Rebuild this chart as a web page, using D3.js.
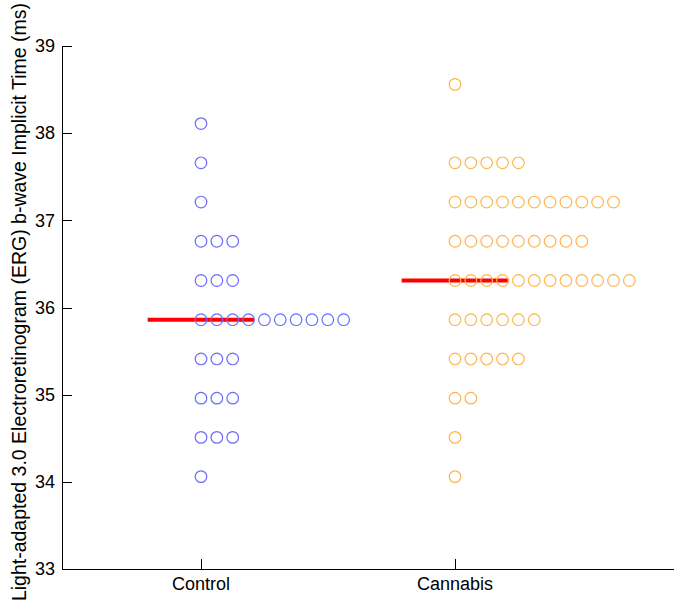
<!DOCTYPE html>
<html>
<head>
<meta charset="utf-8">
<script src="https://cdn.jsdelivr.net/npm/d3@7"></script>
<style>
  html, body { margin: 0; padding: 0; background: #fff; }
  text { font-family: "Liberation Sans", Arial, sans-serif; fill: #000; }
</style>
</head>
<body>
<svg id="chart" width="674" height="601"></svg>
<script>
// ---- data ----
const groups = ["Control", "Cannabis"];
const levels = [34.06, 34.51, 34.96, 35.41, 35.86, 36.31, 36.76, 37.21, 37.66, 38.11, 38.56];
const controlCounts  = [1, 3, 3, 3, 10, 3, 3, 1, 1, 1, 0];
const cannabisCounts = [1, 1, 2, 5, 6, 12, 9, 11, 5, 0, 1];
const medians = [35.86, 36.31];
const yTicks = [33, 34, 35, 36, 37, 38, 39];
const yLabel = "Light-adapted 3.0 Electroretinogram (ERG) b-wave Implicit Time (ms)";

// ---- layout ----
const W = 674, H = 601;
const axisLeft = 62, axisBottom = 569, axisTop = 46, axisRight = 674;
const x = d3.scaleLinear().domain([1, 2]).range([201, 455]);
const y = d3.scaleLinear().domain([33, 39]).range([axisBottom, axisTop]);
const dotStep = 0.0624;   // horizontal spacing between stacked dots (data units)
const medianHalf = 0.21;  // half-width of median bar (data units)
const colors = ["#6b6bff", "#ffb54d"];

const svg = d3.select("#chart");

// build points
const points = [];
[controlCounts, cannabisCounts].forEach((counts, gi) => {
  counts.forEach((n, li) => {
    for (let k = 0; k < n; k++) points.push({ g: gi, v: levels[li], k });
  });
});

// axes lines
svg.append("line").attr("x1", axisLeft + 0.5).attr("x2", axisLeft + 0.5)
  .attr("y1", axisTop).attr("y2", axisBottom).attr("stroke", "#000").attr("stroke-width", 1);
svg.append("line").attr("x1", axisLeft).attr("x2", axisRight)
  .attr("y1", axisBottom + 0.5).attr("y2", axisBottom + 0.5).attr("stroke", "#000").attr("stroke-width", 1);

// y ticks (inward)
const yt = svg.append("g");
yTicks.forEach(t => {
  yt.append("line").attr("x1", axisLeft).attr("x2", axisLeft + 10)
    .attr("y1", Math.round(y(t)) + 0.5).attr("y2", Math.round(y(t)) + 0.5)
    .attr("stroke", "#000").attr("stroke-width", 1);
  yt.append("text").attr("x", 55).attr("y", y(t)).attr("dy", "0.35em")
    .attr("text-anchor", "end").attr("font-size", 18).text(t);
});

// x ticks (inward)
groups.forEach((g, i) => {
  const px = Math.round(x(i + 1)) + 0.5;
  svg.append("line").attr("x1", px).attr("x2", px)
    .attr("y1", axisBottom).attr("y2", axisBottom - 10)
    .attr("stroke", "#000").attr("stroke-width", 1);
  svg.append("text").attr("x", x(i + 1)).attr("y", 590)
    .attr("text-anchor", "middle").attr("font-size", 18).text(g);
});

// y label
svg.append("text")
  .attr("transform", "translate(26,302) rotate(-90)")
  .attr("text-anchor", "middle").attr("font-size", 19.5).text(yLabel);

// median lines
svg.selectAll("line.med").data(medians).enter().append("line")
  .attr("class", "med")
  .attr("x1", (d, i) => x(i + 1 - medianHalf))
  .attr("x2", (d, i) => x(i + 1 + medianHalf))
  .attr("y1", d => y(d)).attr("y2", d => y(d))
  .attr("stroke", "#ff0000").attr("stroke-width", 4);

// dots
svg.selectAll("circle.pt").data(points).enter().append("circle")
  .attr("class", "pt")
  .attr("cx", d => x(d.g + 1 + d.k * dotStep))
  .attr("cy", d => y(d.v))
  .attr("r", 5.8)
  .attr("fill", "none")
  .attr("stroke", d => colors[d.g])
  .attr("stroke-width", 1.2);
</script>
</body>
</html>
